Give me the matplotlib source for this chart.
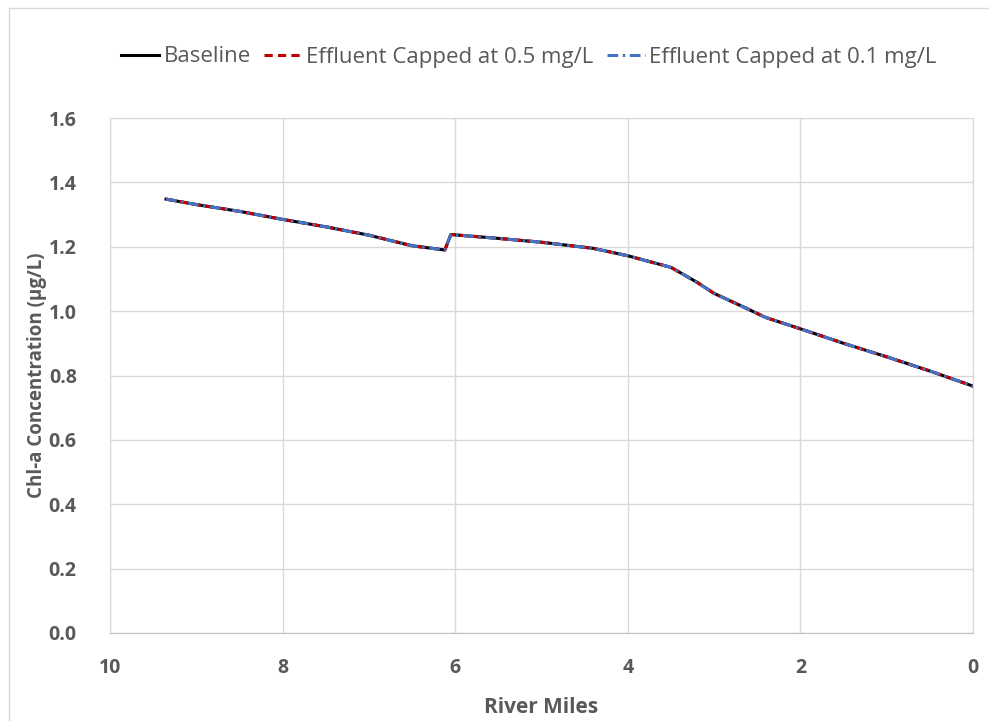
import matplotlib
matplotlib.use("Agg")
import matplotlib.pyplot as plt
from matplotlib.patches import Rectangle

plt.rcParams["font.family"] = ["Open Sans", "DejaVu Sans"]

# Chl-a profile along the river (river mile, concentration in ug/L)
river_miles = [9.35, 9.0, 8.5, 8.0, 7.5, 7.0, 6.5, 6.12, 6.05, 5.5, 5.0, 4.4,
               4.0, 3.5, 3.2, 3.0, 2.7, 2.4, 2.0, 1.5, 1.0, 0.5, 0.0]
baseline = [1.348, 1.331, 1.310, 1.285, 1.262, 1.236, 1.203, 1.190, 1.238,
            1.226, 1.214, 1.195, 1.172, 1.136, 1.090, 1.055, 1.018, 0.980,
            0.945, 0.900, 0.858, 0.814, 0.767]
capped_05 = list(baseline)
capped_01 = list(baseline)

series_labels = ["Baseline", "Effluent Capped at 0.5 mg/L",
                 "Effluent Capped at 0.1 mg/L"]
y_ticks = [0.0, 0.2, 0.4, 0.6, 0.8, 1.0, 1.2, 1.4, 1.6]
x_ticks = [10, 8, 6, 4, 2, 0]

TEXT = "#595959"
GRID = "#D9D9D9"

fig = plt.figure(figsize=(9.89, 7.21), dpi=100)
ax = fig.add_axes([110 / 989, 1 - 633 / 721, (973 - 110) / 989, (633 - 118) / 721])

# outer chart frame
fig.patches.append(Rectangle((9 / 989, -0.05), 1.1, 1 - 8 / 721 + 0.05,
                             transform=fig.transFigure, fill=False,
                             edgecolor=GRID, linewidth=1.0))

ax.plot(river_miles, baseline, color="black", lw=2.2, label=series_labels[0])
ax.plot(river_miles, capped_05, color="#C00000", lw=2.2, ls=(0, (2.7, 1.7)),
        label=series_labels[1])
ax.plot(river_miles, capped_01, color="#4472C4", lw=2.2, ls=(0, (3.5, 1.5, 0.8, 1.5)),
        label=series_labels[2])

ax.set_xlim(10, 0)
ax.set_ylim(0, 1.6)
ax.set_xticks(x_ticks)
ax.set_yticks(y_ticks)
ax.set_yticklabels([f"{v:.1f}" for v in y_ticks])
ax.grid(True, color=GRID, lw=1.0)
ax.set_axisbelow(True)
for side in ["top", "right", "left"]:
    ax.spines[side].set_color(GRID)
ax.spines["bottom"].set_color("#BFBFBF")
ax.tick_params(length=0, labelsize=14, labelcolor=TEXT)
ax.tick_params(axis="x", pad=18)
ax.tick_params(axis="y", pad=24)
for lbl in ax.get_xticklabels() + ax.get_yticklabels():
    lbl.set_fontweight("bold")

ax.set_xlabel("River Miles", fontsize=15, fontweight="bold", color=TEXT, labelpad=14)
ax.set_ylabel("Chl-a Concentration (µg/L)", fontsize=13.5, fontweight="bold",
              color=TEXT, labelpad=1)

fig.legend(loc="center", bbox_to_anchor=(529 / 989, 1 - 57 / 721), ncol=3,
           frameon=False, fontsize=16, labelcolor=TEXT, handlelength=1.7,
           handletextpad=0.2, columnspacing=0.6)

fig.savefig("out.png", dpi=100)
